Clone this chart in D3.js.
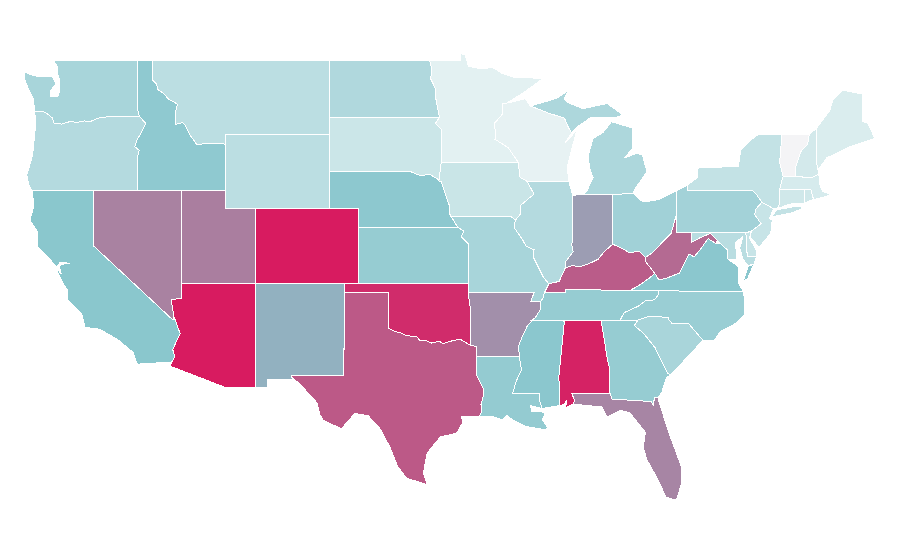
<!DOCTYPE html>
<html><head><meta charset="utf-8">
<style>html,body{margin:0;background:#fff}svg{display:block}</style>
<script src="https://cdn.jsdelivr.net/npm/d3@7"></script></head><body>
<svg id="map" width="900" height="560"></svg>
<script>
const stateNames=["WA","OR","CA","NV","ID","MT","WY","UT","AZ","CO","NM","ND","SD","NE","KS","OK","TX","MN","IA","MO","AR","LA","WI","IL","MI","IN","OH","KY","TN","MS","AL","GA","FL","SC","NC","VA","WV","MD","DE","PA","NJ","NY","CT","RI","MA","VT","NH","ME"];
const stateValues=[35.5,30,49.5,70,47,26.7,26.7,71,100,100,56,32,19,48,44,95,82,8,20,35.5,66,45,6,30,33,62,39,81,44,49,98,44,69,35,42,49,77,27.6,21,38,21,23,17,17,14,0,15.5,12];
const colorDomain=[0,8,50,100];
const colorRange=["#f4f4f6","#e3f1f2","#89c6cd","#d81b60"];

const WA=[[[-122.76,49],[-117.03,49],[-117.04,46.42],[-116.92,45.995],[-118.98,46],[-119.3,45.93],[-119.6,45.92],[-120.2,45.72],[-120.65,45.74],[-121.2,45.65],[-121.55,45.72],[-122.2,45.57],[-122.7,45.62],[-122.8,45.9],[-123.2,46.15],[-123.5,46.26],[-124,46.27],[-124.07,46.7],[-124.1,46.95],[-124.4,47.4],[-124.65,47.9],[-124.73,48.38],[-124,48.17],[-123.4,48.12],[-122.8,48.13],[-122.55,47.75],[-122.95,47.35],[-122.95,47.05],[-122.45,47.05],[-122.3,47.4],[-122.3,47.9],[-122.45,48.3],[-122.5,48.75]]];
const OR=[[[-124,46.27],[-123.5,46.26],[-123.2,46.15],[-122.8,45.9],[-122.7,45.62],[-122.2,45.57],[-121.55,45.72],[-121.2,45.65],[-120.65,45.74],[-120.2,45.72],[-119.6,45.92],[-119.3,45.93],[-118.98,46],[-116.92,45.995],[-116.47,45.6],[-116.85,45],[-117.05,44.75],[-117.22,44.35],[-116.92,44.15],[-117.03,43.83],[-117.03,42],[-124.2,42],[-124.4,42.3],[-124.55,42.84],[-124.4,43.2],[-124.15,43.9],[-124.05,44.7],[-123.95,45.5]]];
const CA=[[[-124.19,42],[-120,42],[-120,39],[-114.63,35],[-114.57,35.2],[-114.15,34.27],[-114.65,33.4],[-114.5,33],[-114.72,32.72],[-117.05,32.6],[-117.35,33.25],[-118.4,33.95],[-119.6,34.5],[-120.6,34.6],[-120.8,35.3],[-121.75,36.1],[-121.8,36.64],[-122.05,36.95],[-122.43,37.55],[-122.45,37.75],[-122.2,37.5],[-122.35,37.95],[-122,38.05],[-121.6,38.07],[-122.3,38.13],[-122.5,37.85],[-123.1,38.4],[-123.8,38.95],[-123.8,39.76],[-124.33,40.4],[-124.05,41.2]]];
const NV=[[[-120,42],[-114.05,42],[-114.05,36.2],[-114.75,36.1],[-114.57,35.2],[-114.63,35],[-120,39]]];
const ID=[[[-117.03,49],[-116.05,49],[-116.05,47.97],[-115.72,47.7],[-115.7,47.45],[-115.3,47.25],[-114.95,46.93],[-114.33,46.65],[-114.47,46.15],[-114.45,45.55],[-114,45.65],[-113.8,45.5],[-113.45,44.95],[-113,44.45],[-112.3,44.55],[-111.5,44.55],[-111.05,44.48],[-111.05,42],[-117.03,42],[-117.03,43.83],[-116.92,44.15],[-117.22,44.35],[-117.05,44.75],[-116.85,45],[-116.47,45.6],[-116.92,45.995],[-117.04,46.42]]];
const MT=[[[-116.05,49],[-104.05,49],[-104.05,45],[-111.05,45],[-111.05,44.48],[-111.5,44.55],[-112.3,44.55],[-113,44.45],[-113.45,44.95],[-113.8,45.5],[-114,45.65],[-114.45,45.55],[-114.47,46.15],[-114.33,46.65],[-114.95,46.93],[-115.3,47.25],[-115.7,47.45],[-115.72,47.7],[-116.05,47.97]]];
const WY=[[[-111.05,45],[-104.05,45],[-104.05,41],[-111.05,41]]];
const UT=[[[-114.05,42],[-111.05,42],[-111.05,41],[-109.05,41],[-109.05,37],[-114.05,37]]];
const AZ=[[[-114.05,37],[-109.05,37],[-109.05,31.33],[-111.07,31.33],[-114.81,32.49],[-114.72,32.72],[-114.5,33],[-114.65,33.4],[-114.15,34.27],[-114.57,35.2],[-114.75,36.1],[-114.05,36.2]]];
const CO=[[[-109.05,41],[-102.05,41],[-102.05,37],[-109.05,37]]];
const NM=[[[-109.05,37],[-103,37],[-103.05,32],[-106.62,32],[-106.53,31.78],[-108.2,31.78],[-108.2,31.33],[-109.05,31.33]]];
const ND=[[[-104.05,49],[-97.23,49],[-97.1,48.6],[-97.15,48],[-96.85,47.5],[-96.8,46.9],[-96.56,45.94],[-104.05,45.94]]];
const SD=[[[-104.05,45.94],[-96.56,45.94],[-96.85,45.6],[-96.45,45.3],[-96.45,43.5],[-96.6,42.5],[-96.45,42.49],[-97.2,42.85],[-97.9,42.8],[-98.5,43],[-104.05,43]]];
const NE=[[[-104.05,43],[-98.5,43],[-97.9,42.8],[-97.2,42.85],[-96.45,42.49],[-96.25,42],[-96.1,41.65],[-95.9,41.2],[-95.85,40.7],[-95.31,40],[-102.05,40],[-102.05,41],[-104.05,41]]];
const KS=[[[-102.05,40],[-95.31,40],[-94.9,39.8],[-95.1,39.5],[-94.6,39.12],[-94.62,37],[-102.05,37]]];
const OK=[[[-103,37],[-94.62,37],[-94.43,35.4],[-94.48,33.64],[-95.15,33.95],[-95.6,33.9],[-96.3,33.72],[-96.6,33.85],[-97.1,33.75],[-97.5,33.9],[-97.9,33.9],[-98.1,34.1],[-98.8,34.15],[-99.2,34.3],[-99.6,34.38],[-100,34.56],[-100,36.5],[-103,36.5]]];
const TX=[[[-106.62,32],[-103.05,32],[-103,36.5],[-100,36.5],[-100,34.56],[-99.6,34.38],[-99.2,34.3],[-98.8,34.15],[-98.1,34.1],[-97.9,33.9],[-97.5,33.9],[-97.1,33.75],[-96.6,33.85],[-96.3,33.72],[-95.6,33.9],[-95.15,33.95],[-94.48,33.64],[-94.04,33.55],[-94.04,32],[-93.55,31.2],[-93.55,31],[-93.75,30.4],[-93.7,30.05],[-93.85,29.78],[-95.05,29.73],[-95,29.4],[-95.4,28.85],[-96.5,28.64],[-97.4,27.77],[-97.65,26.68],[-97.4,26.05],[-98.8,26.4],[-99.4,27.05],[-99.9,28.05],[-100.6,29.1],[-101.4,29.8],[-102.3,29.92],[-103.2,29.1],[-103.8,29.3],[-104.45,29.55],[-104.67,29.85],[-104.87,30.5],[-106,31.5],[-106.53,31.85]]];
const MN=[[[-97.23,49],[-95.15,49],[-95.15,49.38],[-94.82,49.3],[-94.6,48.7],[-93.8,48.55],[-92.95,48.62],[-92.3,48.3],[-91.4,48.07],[-90.75,48.1],[-89.6,48],[-90.8,47.3],[-92,46.7],[-92.3,46.66],[-92.3,46.1],[-92.85,45.6],[-92.75,45],[-92.8,44.75],[-91.9,44.3],[-91.22,43.5],[-96.45,43.5],[-96.45,45.3],[-96.85,45.6],[-96.56,45.94],[-96.8,46.9],[-96.85,47.5],[-97.15,48],[-97.1,48.6]]];
const IA=[[[-96.45,43.5],[-91.22,43.5],[-91.1,42.7],[-90.65,42.5],[-90.15,41.8],[-91.05,41.2],[-91.1,40.7],[-91.42,40.38],[-91.73,40.61],[-95.77,40.58],[-95.85,40.7],[-95.9,41.2],[-96.1,41.65],[-96.25,42],[-96.45,42.49],[-96.6,42.5]]];
const MO=[[[-95.77,40.58],[-91.73,40.61],[-91.42,40.38],[-91.5,40],[-90.9,39.3],[-90.7,39],[-90.15,38.8],[-90.2,38.4],[-89.5,37.3],[-89.15,36.98],[-89.45,36.5],[-89.55,36.2],[-89.7,36],[-90.37,36],[-90.15,36.5],[-94.62,36.5],[-94.6,39.12],[-95.1,39.5],[-94.9,39.8],[-95.31,40]]];
const AR=[[[-94.62,36.5],[-90.15,36.5],[-90.37,36],[-89.7,36],[-89.7,35.6],[-90.1,35.1],[-90.6,34.7],[-90.95,34.1],[-91.2,33.6],[-91.15,33],[-94.04,33.02],[-94.04,33.55],[-94.48,33.64],[-94.43,35.4]]];
const LA=[[[-94.04,33.02],[-91.15,33],[-91,32.3],[-91.4,31.6],[-91.6,31],[-89.75,31],[-89.8,30.65],[-89.6,30.18],[-90.4,30.35],[-90.3,30.05],[-89.7,30.05],[-89.4,29.9],[-89.6,29.6],[-89.2,29.1],[-89.5,29.05],[-90.65,29.2],[-91.6,29.56],[-92,29.83],[-92.3,29.56],[-92.9,29.74],[-93.85,29.78],[-93.7,30.05],[-93.75,30.4],[-93.55,31],[-93.55,31.2],[-94.04,32]]];
const WI=[[[-92,46.7],[-91.2,46.85],[-90.75,46.95],[-90.4,46.55],[-89.1,46.14],[-88.1,45.9],[-87.8,45.35],[-87.6,45.1],[-88.05,44.55],[-87.25,45.25],[-87.6,44.2],[-87.9,43.25],[-87.8,42.49],[-90.65,42.5],[-91.1,42.7],[-91.22,43.5],[-91.9,44.3],[-92.8,44.75],[-92.75,45],[-92.85,45.6],[-92.3,46.1],[-92.3,46.66]]];
const IL=[[[-90.65,42.5],[-87.8,42.49],[-87.53,41.72],[-87.53,39.35],[-87.6,39.1],[-87.5,38.7],[-87.98,38.2],[-88.05,37.8],[-88.45,37.1],[-89.15,36.98],[-89.5,37.3],[-90.2,38.4],[-90.15,38.8],[-90.7,39],[-90.9,39.3],[-91.5,40],[-91.42,40.38],[-91.1,40.7],[-91.05,41.2],[-90.15,41.8]]];
const MI=[[[-90.4,46.55],[-89.05,46.85],[-88.55,47],[-87.85,47.38],[-88.1,46.95],[-87.9,46.75],[-86.85,46.4],[-85.2,46.68],[-84.1,46.05],[-84.7,45.92],[-86.35,45.9],[-87.25,45.4],[-87.6,45.1],[-87.8,45.35],[-88.1,45.9],[-89.1,46.14]],[[-86.8,41.76],[-84.8,41.76],[-83.45,41.85],[-83.2,42.2],[-82.5,43],[-82.8,43.9],[-83.2,44],[-84,43.75],[-83.45,44.3],[-83.45,45.35],[-84.9,45.7],[-85.5,45.1],[-86.15,44.8],[-86.5,43.8],[-86.35,43.1],[-86.15,42.7],[-86.55,42]]];
const IN=[[[-87.53,41.72],[-87.2,41.76],[-84.8,41.76],[-84.82,39.1],[-85.4,38.7],[-85.8,38.3],[-86.3,38.1],[-87,37.9],[-87.6,37.95],[-88.05,37.8],[-87.98,38.2],[-87.5,38.7],[-87.6,39.1],[-87.53,39.35]]];
const OH=[[[-84.8,41.76],[-83.45,41.85],[-82.77,41.37],[-81.7,41.5],[-80.52,41.98],[-80.52,40.64],[-80.85,39.7],[-81.7,39],[-82.2,38.6],[-82.6,38.4],[-83,38.72],[-83.7,38.65],[-84.25,38.9],[-84.82,39.1]]];
const KY=[[[-89.42,36.5],[-88.05,36.5],[-88.05,36.68],[-83.68,36.6],[-83.1,36.85],[-82.3,37.3],[-81.97,37.54],[-82.6,38.17],[-82.6,38.4],[-83,38.72],[-83.7,38.65],[-84.25,38.9],[-84.82,39.1],[-85.4,38.7],[-85.8,38.3],[-86.3,38.1],[-87,37.9],[-87.6,37.95],[-88.05,37.8],[-88.45,37.1],[-89.15,36.98]]];
const TN=[[[-89.45,36.5],[-88.05,36.5],[-88.05,36.68],[-83.68,36.6],[-81.68,36.59],[-81.7,36.4],[-82,36.1],[-82.6,36.05],[-83.1,35.75],[-84.05,35.4],[-84.32,34.99],[-90.3,35],[-90.1,35.1],[-89.7,35.6],[-89.7,36],[-89.55,36.2]]];
const MS=[[[-90.3,35],[-88.2,35],[-88.1,34.9],[-88.47,31.9],[-88.4,30.35],[-89.5,30.2],[-89.6,30.18],[-89.8,30.65],[-89.75,31],[-91.6,31],[-91.4,31.6],[-91,32.3],[-91.15,33],[-91.2,33.6],[-90.95,34.1],[-90.6,34.7],[-90.1,35.1]]];
const AL=[[[-88.2,35],[-85.6,34.98],[-85.18,32.87],[-85,32.3],[-85.05,31.55],[-85,31],[-87.6,31],[-87.4,30.65],[-87.5,30.43],[-88,30.23],[-87.95,30.65],[-88.1,30.4],[-88.4,30.35],[-88.47,31.9],[-88.1,34.9]]];
const GA=[[[-85.6,34.98],[-83.11,35],[-83.35,34.7],[-82.75,34.3],[-81.95,33.5],[-81.4,32.6],[-81.1,32.1],[-80.87,32.03],[-81.15,31.9],[-81.5,31.05],[-81.75,30.76],[-82,30.78],[-82.05,30.36],[-82.2,30.57],[-84.87,30.7],[-85,31],[-85.05,31.55],[-85,32.3],[-85.18,32.87]]];
const FL=[[[-87.6,31],[-85,31],[-84.87,30.7],[-82.2,30.57],[-82.05,30.36],[-82,30.78],[-81.75,30.76],[-81.5,30.1],[-81,28.85],[-80.15,27],[-80.15,26.13],[-80.5,25.2],[-81.2,25.37],[-81.85,26.46],[-82.5,27.4],[-82.75,28.1],[-82.6,28.9],[-83.65,29.95],[-84.3,30.1],[-85.2,29.73],[-85.55,30.27],[-87.5,30.43],[-87.4,30.65]]];
const SC=[[[-83.11,35],[-82.4,35.2],[-81.05,35.15],[-81.05,35.05],[-80.8,34.82],[-79.67,34.8],[-78.7,33.9],[-79.4,33.3],[-79.8,32.95],[-80.87,32.03],[-81.1,32.1],[-81.4,32.6],[-81.95,33.5],[-82.75,34.3],[-83.35,34.7]]];
const NC=[[[-84.32,34.99],[-84.05,35.4],[-83.1,35.75],[-82.6,36.05],[-82,36.1],[-81.7,36.4],[-81.68,36.59],[-75.95,36.55],[-75.9,36.2],[-75.85,35.3],[-76.6,34.75],[-77.5,34.4],[-77.95,33.87],[-78.7,33.9],[-79.67,34.8],[-80.8,34.82],[-81.05,35.05],[-81.05,35.15],[-82.4,35.2],[-83.11,35]]];
const VA=[[[-83.68,36.6],[-81.68,36.59],[-75.95,36.55],[-76.3,37],[-76.3,37.9],[-77,38.3],[-77.05,38.8],[-77.5,39.12],[-77.83,39.14],[-78.35,39.4],[-78.9,38.8],[-79.3,38.42],[-79.65,38.58],[-80.3,37.55],[-81.25,37.25],[-81.7,37.2],[-81.97,37.54],[-82.3,37.3],[-83.1,36.85]],[[-75.95,37.15],[-75.65,37.9],[-75.25,38.03],[-75.7,37.2]]];
const WV=[[[-81.97,37.54],[-81.7,37.2],[-81.25,37.25],[-80.3,37.55],[-79.65,38.58],[-79.3,38.42],[-78.9,38.8],[-78.35,39.4],[-77.83,39.14],[-77.72,39.32],[-78.2,39.68],[-78.9,39.45],[-79.48,39.2],[-79.48,39.72],[-80.52,39.72],[-80.52,40.64],[-80.85,39.7],[-81.7,39],[-82.2,38.6],[-82.6,38.4],[-82.6,38.17]]];
const MD=[[[-79.48,39.72],[-75.79,39.72],[-75.7,38.46],[-75.05,38.45],[-75.25,38.03],[-75.65,37.95],[-76,38.3],[-76.2,38.9],[-76,39.5],[-76.5,39.2],[-76.4,38.3],[-77,38.3],[-77.05,38.8],[-77.5,39.12],[-77.72,39.32],[-78.2,39.68],[-78.9,39.45],[-79.48,39.2]]];
const DE=[[[-75.79,39.72],[-75.42,39.8],[-75.55,39.45],[-75.1,38.8],[-75.05,38.45],[-75.7,38.46]]];
const PA=[[[-80.52,41.98],[-79.76,42.27],[-79.76,42],[-75.35,42],[-75.05,41.75],[-74.7,41.36],[-75.1,41],[-75.2,40.7],[-74.75,40.2],[-75.42,39.8],[-75.79,39.72],[-80.52,39.72]]];
const NJ=[[[-74.7,41.36],[-73.9,41],[-74.2,40.5],[-74,40.4],[-74.1,39.7],[-74.9,38.93],[-75.5,39.5],[-75.42,39.8],[-74.75,40.2],[-75.2,40.7],[-75.1,41]]];
const NY=[[[-79.76,42.27],[-79.76,42],[-75.35,42],[-75.05,41.75],[-74.7,41.36],[-73.9,41],[-73.65,41],[-73.5,41.3],[-73.5,42.05],[-73.27,42.75],[-73.5,43.5],[-73.35,45],[-74.95,45],[-75.5,44.7],[-76.15,44.15],[-76.3,43.3],[-77.55,43.25],[-79.05,43.2],[-79.05,42.7]],[[-74,40.6],[-73.7,40.95],[-72.3,41.15],[-71.85,41.07],[-72.6,40.8],[-74,40.58]]];
const CT=[[[-73.5,42.05],[-71.8,42.02],[-71.8,41.32],[-72.9,41.25],[-73.65,41],[-73.5,41.3]]];
const RI=[[[-71.8,42.02],[-71.38,42.02],[-71.2,41.5],[-71.85,41.32]]];
const MA=[[[-73.5,42.05],[-73.27,42.75],[-71.3,42.7],[-70.85,42.87],[-70.75,42.2],[-70.6,41.95],[-70,41.75],[-70.7,41.6],[-71.2,41.5],[-71.38,42.02]]];
const VT=[[[-73.35,45],[-71.5,45],[-71.6,44.5],[-72.05,44.1],[-72.4,43.3],[-72.45,42.73],[-73.27,42.75],[-73.5,43.5]]];
const NH=[[[-71.5,45],[-71,45.35],[-70.98,43.4],[-70.9,43.1],[-70.85,42.87],[-71.3,42.7],[-72.45,42.73],[-72.4,43.3],[-72.05,44.1],[-71.6,44.5]]];
const ME=[[[-71,45.35],[-70.1,46.3],[-69.9,46.85],[-69.2,47.4],[-68.6,47.3],[-67.9,47.2],[-67.85,45.7],[-67.5,45.6],[-67.05,44.8],[-68.75,44.35],[-70.3,43.75],[-70.9,43.1],[-70.98,43.4]]];

const stateRings={WA,OR,CA,NV,ID,MT,WY,UT,AZ,CO,NM,ND,SD,NE,KS,OK,TX,MN,IA,MO,AR,LA,WI,IL,MI,IN,OH,KY,TN,MS,AL,GA,FL,SC,NC,VA,WV,MD,DE,PA,NJ,NY,CT,RI,MA,VT,NH,ME};

const lon=d3.scaleLinear().domain([-109.05,-102.05]).range([255.3,358.55]);
const lat=d3.scaleLinear().domain([25.12,37,42,49]).range([501.7,283.3,190.3,60.5]);
const color=d3.scaleLinear().domain(colorDomain).range(colorRange);
const projection=d3.geoTransform({point(x,y){this.stream.point(lon(x),lat(y));}});
const path=d3.geoPath(projection);
const features=stateNames.map((n,i)=>({type:"Feature",id:n,properties:{value:stateValues[i]},
  geometry:{type:"MultiPolygon",coordinates:stateRings[n].map(r=>[r.concat([r[0]])])}}));
d3.select("#map").selectAll("path").data(features).join("path")
  .attr("d",path).attr("fill",d=>color(d.properties.value))
  .attr("stroke","#fff").attr("stroke-width",1).attr("shape-rendering","crispEdges");
</script></body></html>
